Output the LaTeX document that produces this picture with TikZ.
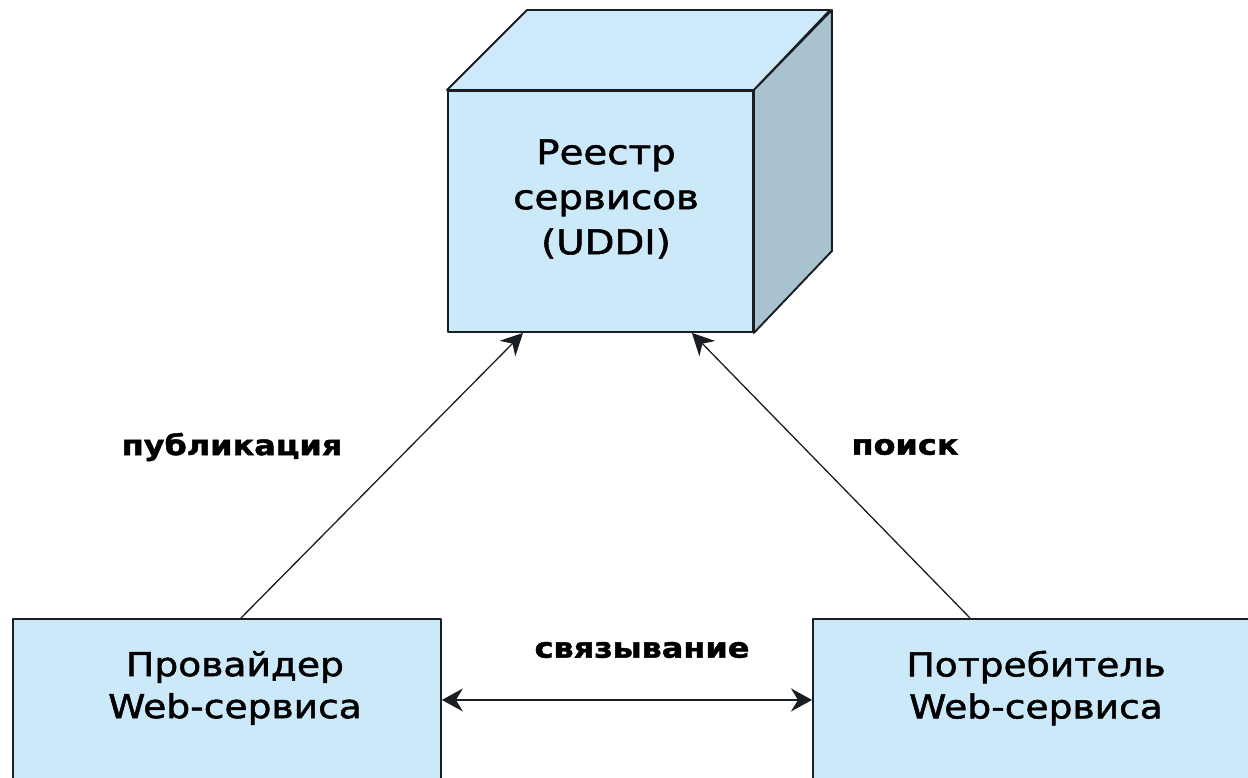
\documentclass[tikz,border=0pt]{standalone}
\usepackage{fontspec}
\setmainfont{DejaVu Sans}[FakeStretch=1.14, FakeBold=1.6]
\usetikzlibrary{arrows.meta}
\definecolor{facefill}{RGB}{204,233,250}
\definecolor{topfill}{RGB}{206,234,250}
\definecolor{sidefill}{RGB}{168,194,208}
\definecolor{edge}{RGB}{25,30,35}
\begin{document}
\begin{tikzpicture}[x=1pt,y=-1pt,
 face/.style={draw=edge, line width=1.9pt, fill=facefill, line join=round},
 boxtext/.style={font=\fontsize{33}{42}\selectfont, align=center, inner sep=0pt},
 lbl/.style={font=\bfseries\fontsize{28}{34}\selectfont, inner sep=0pt},
 conn/.style={line width=1.3pt, draw=edge, -{Stealth[length=22pt,width=22pt,inset=7pt]}},
 biconn/.style={line width=1.8pt, draw=edge, {Stealth[length=21pt,width=23pt,inset=7pt]}-{Stealth[length=21pt,width=23pt,inset=7pt]}},
]
\useasboundingbox (0,0) rectangle (1248,777);
\clip (0,0) rectangle (1248,777);
\fill[white] (0,0) rectangle (1248,777);
% cube: registry
\node[face, minimum width=305pt, minimum height=241pt, inner sep=0pt, anchor=north west] (registry) at (447,90) {};
\draw[face, fill=topfill] (registry.north west) -- ++(80,-80) -- ++(303,0) -- (registry.north east) -- cycle;
\draw[face, fill=sidefill] (registry.north east) -- ++(78,-80) -- ++(0,241) -- (registry.south east) -- cycle;
\node[boxtext, font=\fontsize{34}{45}\selectfont] (registrytext) at (606,199) {Реестр\\сервисов\\(UDDI)};
% provider and consumer
\node[face, minimum width=428pt, minimum height=162pt, inner sep=0pt, anchor=north west] (provider) at (12,618) {};
\node[face, minimum width=448pt, minimum height=162pt, inner sep=0pt, anchor=north west] (consumer) at (812,618) {};
\node[boxtext] (providertext) at (235,688) {Провайдер\\Web-сервиса};
\node[boxtext] (consumertext) at (1036,688) {Потребитель\\Web-сервиса};
% connectors
\draw[conn] ([xshift=14pt]provider.north) -- ([xshift=76pt]registry.south west);
\draw[conn] ([xshift=158pt]consumer.north west) -- ([xshift=-62pt]registry.south east);
\draw[biconn] (provider.east) -- (consumer.west);
% labels
\node[lbl] (publish) at (232,447) {публикация};
\node[lbl] (find) at (905,447) {поиск};
\node[lbl] (bind) at (642,650) {связывание};
\end{tikzpicture}
\end{document}
